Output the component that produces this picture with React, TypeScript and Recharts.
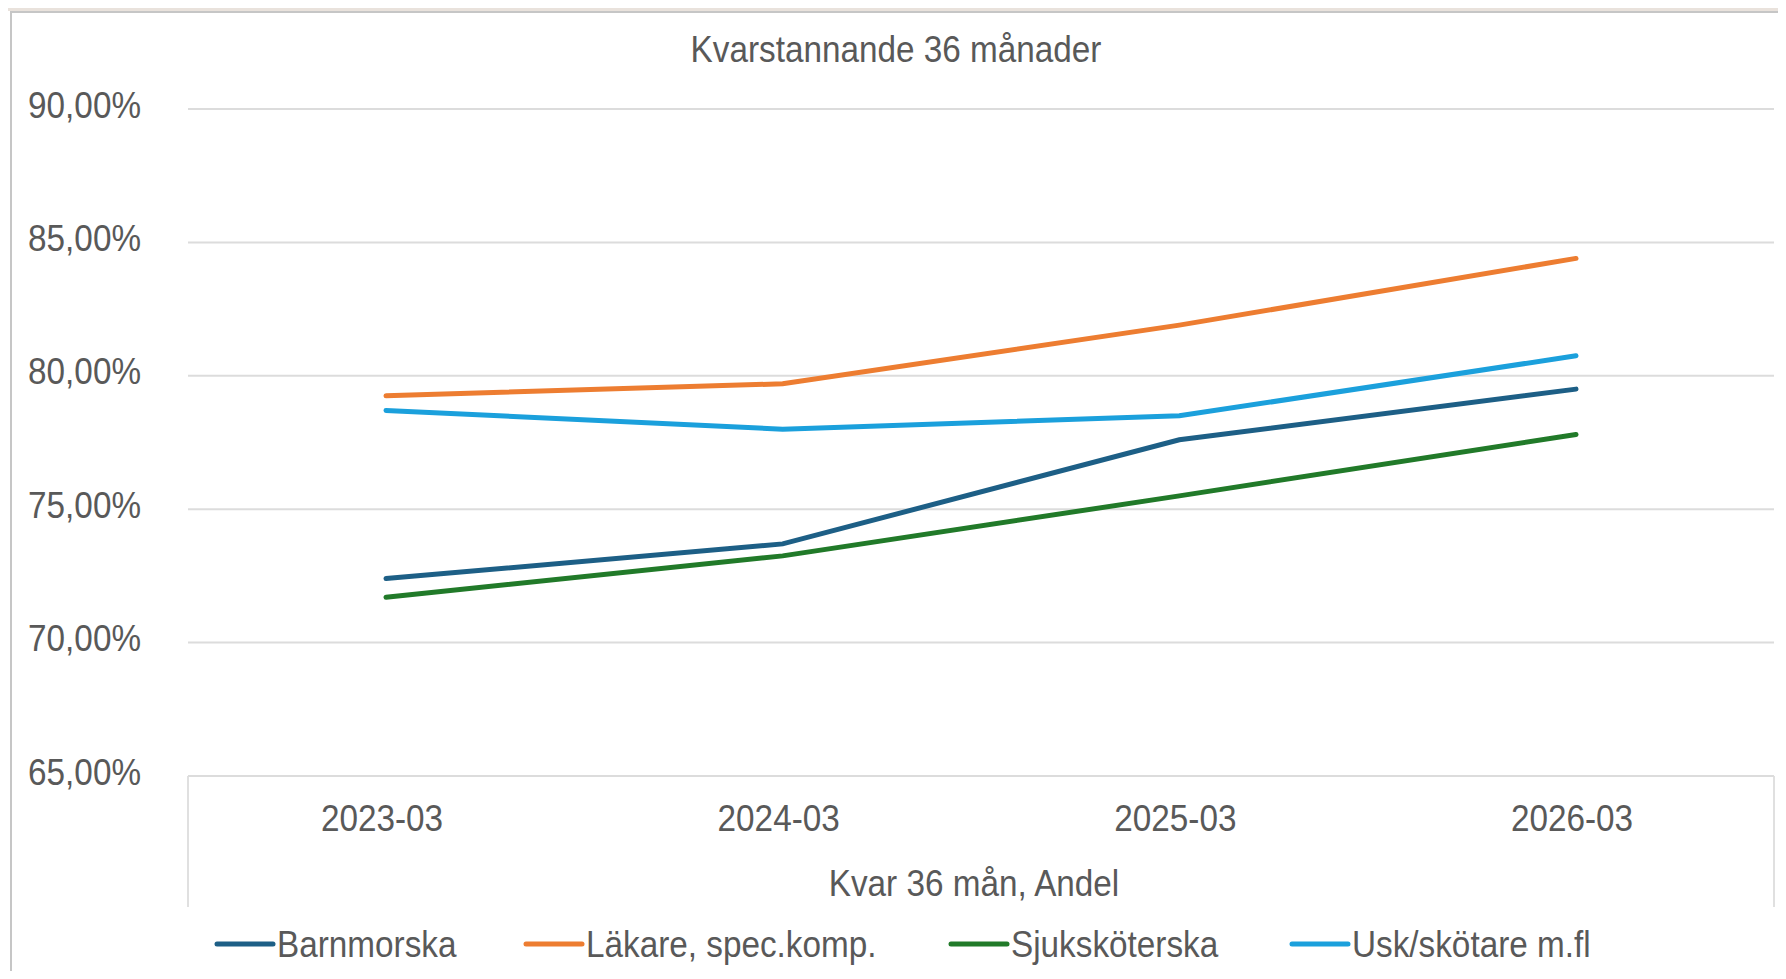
import React from 'react';
import { LineChart, Line, XAxis, YAxis, CartesianGrid } from 'recharts';

const categories = ['2023-03', '2024-03', '2025-03', '2026-03'];
const barnmorska = [72.4, 73.7, 77.6, 79.5];
const lakare = [79.25, 79.7, 81.9, 84.4];
const sjukskoterska = [71.7, 73.25, 75.5, 77.8];
const usk = [78.7, 78.0, 78.5, 80.75];
const yTicks = [65, 70, 75, 80, 85, 90];

const series = [
  { key: 'barnmorska', name: 'Barnmorska', color: '#1d5f86', values: barnmorska },
  { key: 'lakare', name: 'Läkare, spec.komp.', color: '#ed7d31', values: lakare },
  { key: 'sjukskoterska', name: 'Sjuksköterska', color: '#217a29', values: sjukskoterska },
  { key: 'usk', name: 'Usk/skötare m.fl', color: '#1ba0dc', values: usk },
];

// legend item left edges (px)
const legendX = [215, 524, 949, 1290];

const FONT = "'Liberation Sans', Arial, sans-serif";
const TEXT = '#595959';
const FS = 37;
const SQUEEZE = 0.9; // narrow look of the original font

const data = categories.map((c, i) => {
  const row: Record<string, string | number> = { name: c };
  series.forEach((s) => {
    row[s.key] = s.values[i];
  });
  return row;
});

const fmtPct = (v: number) => `${v.toFixed(2).replace('.', ',')}%`;

function Narrow({ x, y, anchor = 'start', children }: any) {
  return (
    <text
      transform={`translate(${x},${y}) scale(${SQUEEZE},1)`}
      textAnchor={anchor}
      fill={TEXT}
      fontSize={FS}
      fontFamily={FONT}
    >
      {children}
    </text>
  );
}

const YTick = ({ x, y, payload }: any) => (
  <Narrow x={x} y={y + 8.5} anchor="end">
    {fmtPct(payload.value)}
  </Narrow>
);

const XTick = ({ x, y, payload }: any) => (
  <Narrow x={x - 4} y={y + 55} anchor="middle">
    {payload.value}
  </Narrow>
);

export default function App() {
  return (
    <div
      style={{
        position: 'relative',
        width: 1786,
        height: 979,
        margin: -8,
        background: '#fff',
        overflow: 'hidden',
      }}
    >
      {/* window chrome + chart frame */}
      <div style={{ position: 'absolute', left: 0, top: 0, width: 1786, height: 11, background: '#e9e2dc' }} />
      <div
        style={{
          position: 'absolute',
          left: 10,
          top: 11,
          right: -2,
          bottom: -2,
          borderTop: '2px solid #c6c6c6',
          borderLeft: '2px solid #c6c6c6',
        }}
      />
      {/* x axis box borders */}
      <div style={{ position: 'absolute', left: 187, top: 776, width: 2, height: 131, background: '#e0e0e0' }} />
      <div style={{ position: 'absolute', left: 1773, top: 776, width: 2, height: 131, background: '#e0e0e0' }} />

      <div style={{ position: 'absolute', left: 0, top: 0 }}>
        <LineChart
          width={1786}
          height={979}
          data={data}
          margin={{ top: 109, right: 12, left: 0, bottom: 0 }}
        >
          <CartesianGrid vertical={false} stroke="#dcdcdc" strokeWidth={2} />
          <XAxis
            dataKey="name"
            height={203}
            padding={{ left: 198, right: 198 }}
            axisLine={false}
            tickLine={false}
            tickSize={0}
            tickMargin={0}
            interval={0}
            tick={<XTick />}
          />
          <YAxis
            width={188}
            domain={[65, 90]}
            ticks={yTicks}
            interval={0}
            axisLine={false}
            tickLine={false}
            tickSize={0}
            tickMargin={47}
            tick={<YTick />}
          />
          {series.map((s) => (
            <Line
              key={s.key}
              type="linear"
              dataKey={s.key}
              name={s.name}
              stroke={s.color}
              strokeWidth={5}
              strokeLinecap="round"
              dot={false}
              activeDot={false}
              isAnimationActive={false}
            />
          ))}
        </LineChart>
      </div>

      {/* title, axis title, legend */}
      <svg
        width={1786}
        height={979}
        style={{ position: 'absolute', left: 0, top: 0, pointerEvents: 'none' }}
      >
        <Narrow x={896} y={62} anchor="middle">
          Kvarstannande 36 månader
        </Narrow>
        <Narrow x={974} y={896} anchor="middle">
          Kvar 36 mån, Andel
        </Narrow>
        {series.map((s, i) => (
          <g key={s.key}>
            <line
              x1={legendX[i] + 2}
              x2={legendX[i] + 58}
              y1={944}
              y2={944}
              stroke={s.color}
              strokeWidth={5}
              strokeLinecap="round"
            />
            <Narrow x={legendX[i] + 62} y={956.5}>
              {s.name}
            </Narrow>
          </g>
        ))}
      </svg>
    </div>
  );
}
